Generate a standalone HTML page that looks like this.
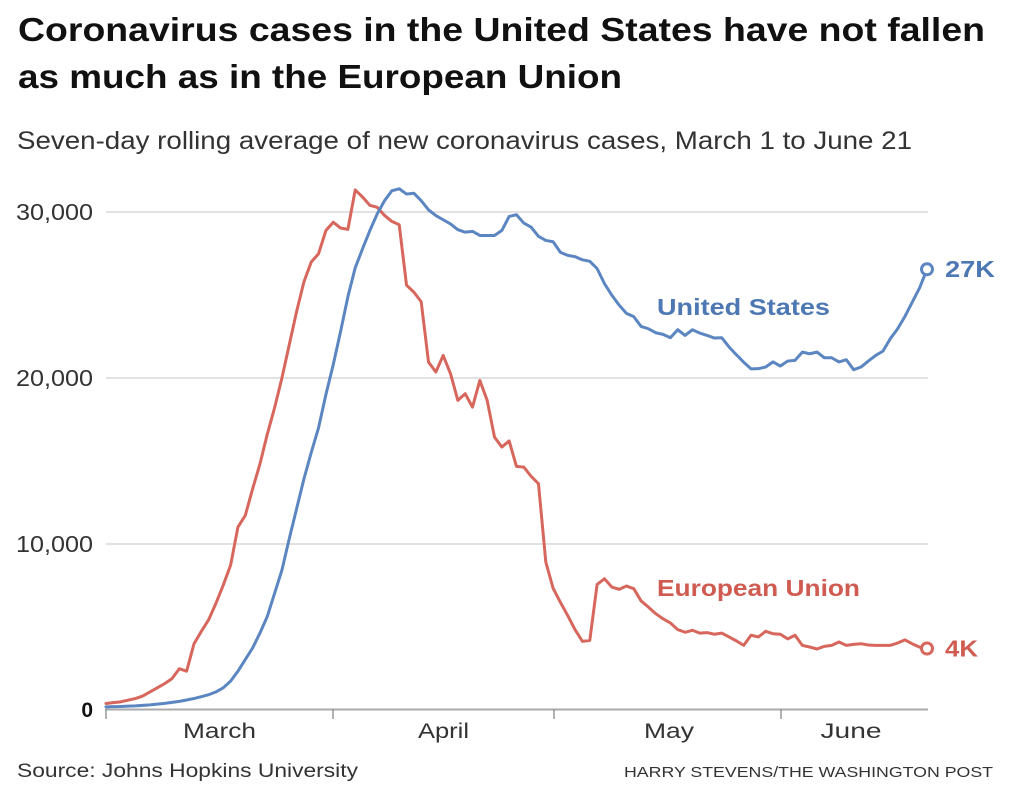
<!DOCTYPE html>
<html>
<head>
<meta charset="utf-8">
<style>
  html, body { margin:0; padding:0; background:#ffffff; }
  body { width:1024px; height:791px; overflow:hidden; }
  svg { display:block; }
  text { font-family: "Liberation Sans", "DejaVu Sans", sans-serif; }
</style>
</head>
<body>
<svg width="1024" height="791" viewBox="0 0 1024 791" xmlns="http://www.w3.org/2000/svg">
  <rect x="0" y="0" width="1024" height="791" fill="#ffffff"/>

  <!-- Title -->
  <text x="18" y="41" font-size="33" font-weight="bold" fill="#111" textLength="967" lengthAdjust="spacingAndGlyphs">Coronavirus cases in the United States have not fallen</text>
  <text x="18" y="88" font-size="33" font-weight="bold" fill="#111" textLength="604" lengthAdjust="spacingAndGlyphs">as much as in the European Union</text>

  <!-- Subtitle -->
  <text x="17" y="149" font-size="25" fill="#333" textLength="895" lengthAdjust="spacingAndGlyphs">Seven-day rolling average of new coronavirus cases, March 1 to June 21</text>

  <!-- Gridlines -->
  <g stroke="#e2e2e2" stroke-width="2">
    <line x1="106" y1="212" x2="928" y2="212"/>
    <line x1="106" y1="378" x2="928" y2="378"/>
    <line x1="106" y1="544" x2="928" y2="544"/>
  </g>

  <!-- Y labels -->
  <g font-size="23" fill="#333" text-anchor="end">
    <text x="93" y="220" textLength="77" lengthAdjust="spacingAndGlyphs">30,000</text>
    <text x="93" y="386" textLength="77" lengthAdjust="spacingAndGlyphs">20,000</text>
    <text x="93" y="552" textLength="77" lengthAdjust="spacingAndGlyphs">10,000</text>
  </g>
  <text x="93" y="717" font-size="21" font-weight="bold" fill="#111" text-anchor="end">0</text>

  <!-- Axis -->
  <line x1="105" y1="709.5" x2="928" y2="709.5" stroke="#aaaaaa" stroke-width="2"/>
  <g stroke="#999" stroke-width="1.5">
    <line x1="106" y1="709" x2="106" y2="719"/>
    <line x1="333" y1="709" x2="333" y2="719"/>
    <line x1="554" y1="709" x2="554" y2="719"/>
    <line x1="781" y1="709" x2="781" y2="719"/>
  </g>

  <!-- Month labels -->
  <g font-size="21" fill="#333" text-anchor="middle">
    <text x="219.5" y="738" textLength="73" lengthAdjust="spacingAndGlyphs">March</text>
    <text x="443.5" y="738" textLength="51" lengthAdjust="spacingAndGlyphs">April</text>
    <text x="669" y="738" textLength="50" lengthAdjust="spacingAndGlyphs">May</text>
    <text x="851" y="738" textLength="61" lengthAdjust="spacingAndGlyphs">June</text>
  </g>

  <!-- Data series -->
  <g transform="translate(106,709.3) scale(7.33,-0.016567)">
    <polyline fill="none" stroke="#d7675c" stroke-width="3" stroke-linejoin="round" stroke-linecap="round" vector-effect="non-scaling-stroke"
      points="0,350 1,400 2,450 3,550 4,650 5,800 6,1050 7,1300 8,1550 9,1850 10,2450 11,2300 12,3950 13,4700 14,5400 15,6400 16,7500 17,8700 18,11000 19,11700 20,13300 21,14800 22,16600 23,18200 24,20000 25,22000 26,24000 27,25800 28,27000 29,27500 30,28900 31,29400 32,29050 33,28970 34,31350 35,30920 36,30420 37,30300 38,29810 39,29450 40,29250 41,25600 42,25180 43,24600 44,20960 45,20360 46,21360 47,20260 48,18650 49,19050 50,18240 51,19850 52,18650 53,16430 54,15830 55,16200 56,14660 57,14620 58,14060 59,13620 60,8890 61,7300 62,6450 63,5650 64,4800 65,4100 66,4160 67,7540 68,7880 69,7380 70,7240 71,7440 72,7280 73,6540 74,6170 75,5770 76,5460 77,5210 78,4810 79,4650 80,4770 81,4600 82,4630 83,4530 84,4600 85,4370 86,4130 87,3860 88,4470 89,4370 90,4710 91,4560 92,4530 93,4250 94,4470 95,3860 96,3760 97,3640 98,3800 99,3860 100,4060 101,3860 102,3920 103,3960 104,3880 105,3860 106,3860 107,3860 108,4000 109,4190 110,3950 111,3750 112,3640"/>
    <polyline fill="none" stroke="#5b86c1" stroke-width="3" stroke-linejoin="round" stroke-linecap="round" vector-effect="non-scaling-stroke"
      points="0,150 1,160 2,170 3,190 4,210 5,240 6,270 7,310 8,360 9,420 10,480 11,560 12,650 13,760 14,880 15,1050 16,1300 17,1700 18,2300 19,3000 20,3700 21,4600 22,5600 23,7000 24,8400 25,10300 26,12100 27,13900 28,15500 29,17000 30,19000 31,20800 32,22800 33,24900 34,26650 35,27800 36,28900 37,29900 38,30700 39,31300 40,31420 41,31100 42,31150 43,30700 44,30150 45,29800 46,29550 47,29300 48,28950 49,28800 50,28850 51,28600 52,28600 53,28600 54,28900 55,29750 56,29850 57,29350 58,29100 59,28550 60,28300 61,28220 62,27580 63,27400 64,27320 65,27130 66,27040 67,26600 68,25700 69,25000 70,24400 71,23900 72,23700 73,23110 74,22970 75,22730 76,22630 77,22430 78,22910 79,22570 80,22910 81,22710 82,22570 83,22410 84,22430 85,21870 86,21400 87,20950 88,20550 89,20560 90,20660 91,20970 92,20720 93,21020 94,21060 95,21560 96,21460 97,21560 98,21220 99,21220 100,20970 101,21100 102,20500 103,20660 104,21020 105,21360 106,21620 107,22370 108,22970 109,23720 110,24580 111,25440 112,26550"/>
  </g>

  <!-- End markers -->
  <circle cx="927" cy="269.3" r="5.5" fill="#ffffff" stroke="#5b86c1" stroke-width="3"/>
  <circle cx="927" cy="648.5" r="5.5" fill="#ffffff" stroke="#d7675c" stroke-width="3"/>

  <!-- Series labels -->
  <text x="657" y="315" font-size="23" font-weight="bold" fill="#4d78b3" textLength="173" lengthAdjust="spacingAndGlyphs">United States</text>
  <text x="945" y="277" font-size="23" font-weight="bold" fill="#4d78b3" textLength="50" lengthAdjust="spacingAndGlyphs">27K</text>
  <text x="657" y="596" font-size="23" font-weight="bold" fill="#cf5b51" textLength="203" lengthAdjust="spacingAndGlyphs">European Union</text>
  <text x="945" y="656.5" font-size="23" font-weight="bold" fill="#cf5b51" textLength="33" lengthAdjust="spacingAndGlyphs">4K</text>

  <!-- Footer -->
  <text x="17" y="777" font-size="19" fill="#333" textLength="341" lengthAdjust="spacingAndGlyphs">Source: Johns Hopkins University</text>
  <text x="624" y="777" font-size="15" fill="#333" textLength="369" lengthAdjust="spacingAndGlyphs">HARRY STEVENS/THE WASHINGTON POST</text>
</svg>
</body>
</html>
